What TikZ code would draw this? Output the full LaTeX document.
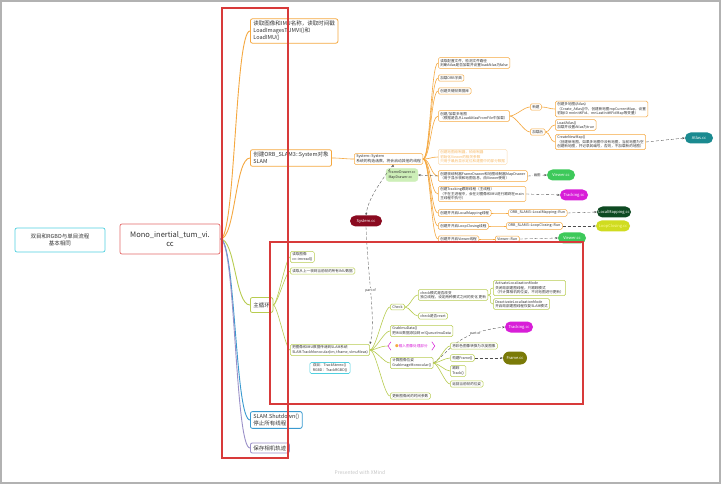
\documentclass[tikz,border=0pt]{standalone}
\usepackage{fontspec}
\setmainfont{Noto Sans CJK SC}
\usetikzlibrary{shapes.misc,arrows.meta}
\definecolor{orgc}{HTML}{F5A840}
\definecolor{limec}{HTML}{B8CC50}
\definecolor{bluec}{HTML}{3A9AD0}
\definecolor{purpc}{HTML}{9A90C8}
\definecolor{cyanc}{HTML}{50D0E0}
\definecolor{rootc}{HTML}{E46A6A}
\definecolor{framec}{HTML}{D83A3A}
\definecolor{tealc}{HTML}{1A8A90}
\definecolor{viewc}{HTML}{3DC95A}
\definecolor{magc}{HTML}{D81ED8}
\definecolor{dgreenc}{HTML}{0E4A22}
\definecolor{lcc}{HTML}{D0DC20}
\definecolor{olivec}{HTML}{7A7A08}
\definecolor{sysc}{HTML}{8A0A20}
\definecolor{fdc}{HTML}{CDEFB8}
\definecolor{txtc}{HTML}{333333}
\tikzset{
  bx/.style={draw, rounded corners=1.5pt, fill=white, inner xsep=2pt, inner ysep=1.5pt,
    align=left, anchor=west, text=txtc, line width=0.5pt, font=\fontsize{3.6}{4.4}\selectfont},
  ob/.style={bx, draw=orgc},
  gb/.style={bx, draw=limec},
  lone/.style={bx, font=\fontsize{5.5}{6.8}\selectfont, line width=0.8pt, inner xsep=3pt, inner ysep=2.5pt, rounded corners=2pt},
  pill/.style={rounded rectangle, minimum height=11pt, minimum width=34pt, inner xsep=3pt,
    text=white, font=\fontsize{4}{5}\selectfont},
  oline/.style={orgc, line width=0.6pt},
  gline/.style={limec, line width=0.6pt},
  rel/.style={densely dashed, gray!60!black, line width=0.35pt, -{Stealth[length=2.5pt,width=2pt]}},
  rlab/.style={fill=white, inner sep=0.5pt, text=txtc, font=\fontsize{3.4}{4}\selectfont},
  redframe/.style={draw=framec, line width=1.6pt}
}
\newcommand\lk[4]{\draw[#1] (#2.east) .. controls +(#4,0) and +(-#4,0) .. (#3.west);}
\begin{document}
\begin{tikzpicture}[x=1pt,y=-1pt]
\useasboundingbox (0,0) rectangle (721,484);
\fill[white] (0,0) rectangle (721,484);
\draw[gray!60, line width=1.2pt] (1,1) rectangle (720,483);

% root and left
\node[draw=rootc, rounded corners=2pt, fill=white, minimum width=100pt, minimum height=30pt, align=center,
  text=txtc, line width=0.7pt, font=\fontsize{7.5}{9.5}\selectfont] (root) at (170,239) {Mono\_inertial\_tum\_vi.\\cc};
\node[draw=cyanc, rounded corners=2pt, fill=white, minimum width=90pt, minimum height=24pt, align=center,
  text=txtc, line width=0.7pt, font=\fontsize{5.5}{7.5}\selectfont] (left) at (60,240) {双目和RGBD与单目流程\\基本相同};

% level one
\node[lone, draw=orgc] (n1) at (250,31) {读取图像和IMU名称，读取时间戳\\LoadImagesTUMVI()和\\LoadIMU()};
\node[lone, draw=orgc] (n2) at (250,158) {创建ORB\_SLAM3::System对象\\SLAM};
\node[lone, draw=limec, minimum height=15pt] (n3) at (250,305) {主循环};
\node[lone, draw=bluec] (n4) at (250,420) {SLAM.Shutdown()\\停止所有线程};
\node[lone, draw=purpc] (n5) at (250,448) {保存相机轨迹};

\lk{orgc, line width=0.9pt}{root}{n1}{15}
\lk{orgc, line width=0.9pt}{root}{n2}{15}
\lk{limec, line width=0.9pt}{root}{n3}{15}
\lk{bluec, line width=0.9pt}{root}{n4}{15}
\lk{purpc, line width=0.9pt}{root}{n5}{15}

% System branch
\node[ob, font=\fontsize{3.8}{4.6}\selectfont] (sys) at (354,159) {System::System\\系统的构造函数，将会启动其他的线程};
\lk{oline}{n2}{sys}{10}

\node[ob] (c1) at (438,63) {读取配置文件，检测文件路径\\判断Atlas是否加载并设置loadAtlas为false};
\node[ob] (c2) at (438,78) {加载ORB字典};
\node[ob] (c3) at (438,91) {创建关键帧数据库};
\node[ob] (c4) at (438,116) {创建/加载多地图\\（根据是否从LoadAtlasFromFile中加载）};
\node[bx, draw=orgc!40, text=orgc!80] (c5) at (438,157) {创建地图绘制器，帧绘制器\\初始化Viewer的相关参数\\只用于最后显示定位和建图中的部分数据};
\node[ob] (c6) at (438,176) {创建帧绘制器FrameDrawer和地图绘制器MapDrawer\\（用于显示帧和地图信息，由Viewer使用）};
\node[ob] (c7) at (438,194) {创建Tracking跟踪线程（主线程）\\（不在主进程中，会在对图像和IMU进行跟踪在main\\主线程中执行）};
\node[ob] (c8) at (438,213) {创建并开启LocalMapping线程};
\node[ob] (c9) at (438,226) {创建并开启LoopClosing线程};
\node[ob] (c10) at (438,239) {创建并开启Viewer线程};
\foreach \c in {c1,c2,c3,c4,c5,c6,c7,c8,c9,c10}{\lk{oline}{sys}{\c}{7}}

\node[ob] (c4a) at (530,107) {新建};
\node[ob] (c4b) at (530,132) {加载后};
\lk{oline}{c4}{c4a}{6}
\lk{oline}{c4}{c4b}{6}
\node[ob] (c4a1) at (555,109) {创建多地图(Atlas)\\（Create\_Atlas()中，创建新地图mpCurrentMap，设置\\初始ID mnInitKFid、mnLastInitKFidMap等变量）};
\node[ob] (c4b1) at (555,125) {LoadAtlas()\\加载并设置Atlas为true};
\node[ob] (c4b2) at (555,142) {CreateNewMap()\\（创建新地图，如果多地图中没有地图，当前地图为空\\创建新地图，并记录其编号，否则，不加载新的地图）};
\lk{oline}{c4a}{c4a1}{5}
\lk{oline}{c4b}{c4b1}{5}
\lk{oline}{c4b}{c4b2}{5}
\node[pill, fill=tealc] (atlas) at (699,138) {Atlas.cc};
\draw[rel] (c4b2.east) -- (atlas.west);

\node[pill, fill=viewc] (view1) at (561,175) {Viewer.cc};
\draw[rel] (c6.east) -- node[rlab]{画图} (view1.west);
\node[draw=fdc, fill=fdc, rounded corners=3pt, align=left, text=txtc, inner sep=2.5pt,
  font=\fontsize{3.6}{4.4}\selectfont] (fd) at (402,175) {FrameDrawer.cc\\MapDrawer.cc};
\draw[rel] (c6.west) -- (fd.east);
\node[pill, fill=magc] (track1) at (574,195) {Tracking.cc};
\draw[rel] (c7.east) -- (track1.west);

\node[ob] (c8a) at (508,213) {ORB\_SLAM3::LocalMapping::Run};
\node[ob] (c9a) at (506,226) {ORB\_SLAM3::LoopClosing::Run};
\node[ob] (c10a) at (495,239) {Viewer::Run};
\lk{oline}{c8}{c8a}{4}
\lk{oline}{c9}{c9a}{4}
\lk{oline}{c10}{c10a}{4}
\node[pill, fill=dgreenc, minimum width=40pt] (lm) at (614,212) {LocalMapping.cc};
\node[pill, fill=lcc, text=yellow!40, minimum width=40pt] (lc) at (613,226) {LoopClosing.cc};
\node[pill, fill=viewc] (view2) at (572,238) {Viewer.cc};
\draw[rel] (c8a.east) -- (lm.west);
\draw[rel] (c9a.east) -- (lc.west);
\draw[rel] (c10a.east) -- (view2.west);

\node[pill, fill=sysc, minimum width=38pt] (sysf) at (366,221) {System.cc};
\draw[rel] (sys.south east) ++(-30,0) coordinate (sysb);
\draw[rel] (sysb) .. controls (378,185) and (368,200) .. (sysf.north);

% main loop
\node[gb] (m1) at (290,257) {读取图像\\cv::imread()};
\node[gb] (m2) at (290,271) {读取从上一帧到当前帧的所有IMU数据};
\node[gb] (m3) at (290,350) {把图像和IMU数据传递到SLAM系统\\SLAM.TrackMonocular(im, tframe, vImuMeas)};
\lk{gline}{n3}{m1}{4}
\lk{gline}{n3}{m2}{4}
\lk{gline}{n3}{m3}{4}
\node[bx, draw=cyanc, line width=0.6pt, anchor=center, inner xsep=3pt] (stereo) at (330,368) {双目：TrackStereo()\\RGBD：TrackRGBD()};

\draw[rel] (sysf.south) .. controls (368,280) and (376,320) .. node[rlab, pos=0.45]{part of} (m3.north east);

\node[gb] (k1) at (390,307) {Check};
\node[gb] (k2) at (390,331) {GrabImuData()\\把IMU数据添加到 mlQueueImuData};
\node[anchor=west, text=magc, font=\fontsize{3.6}{4.4}\selectfont, inner xsep=3pt] (k3) at (392,346) {\textcolor{orgc}{●}输入图像处理部分};
\draw[magc, line width=0.5pt] ([xshift=-1pt,yshift=-1pt]k3.north west) -- ([xshift=-4pt]k3.west) -- ([xshift=-1pt,yshift=1pt]k3.south west);
\draw[magc, line width=0.5pt] ([xshift=1pt,yshift=-1pt]k3.north east) -- ([xshift=4pt]k3.east) -- ([xshift=1pt,yshift=1pt]k3.south east);
\node[gb] (k4) at (390,363) {计算图像位姿\\GrabImageMonocular()};
\node[gb] (k5) at (390,396) {更新图像间的时间参数};
\lk{gline}{m3}{k1}{6}
\lk{gline}{m3}{k2}{6}
\draw[gline] (m3.east) .. controls +(6,0) and +(-9,0) .. ([xshift=-4pt]k3.west);
\lk{gline}{m3}{k4}{6}
\lk{gline}{m3}{k5}{6}

\node[gb] (k1a) at (418,295) {check模式是否改变\\独立线程，设定两种模式之间的变化 更新};
\node[gb] (k1b) at (418,316) {check是否reset};
\lk{gline}{k1}{k1a}{5}
\lk{gline}{k1}{k1b}{5}
\node[gb] (k1a1) at (493,288) {ActivateLocalizationMode\\关闭局部建图线程，只跟踪模式\\（只计算相机的位姿，不对地图进行更新）};
\node[gb] (k1a2) at (493,304) {DeactivateLocalizationMode\\开启局部建图线程恢复SLAM模式};
\lk{gline}{k1a}{k1a1}{6}
\lk{gline}{k1a}{k1a2}{6}

\node[pill, fill=magc] (track2) at (519,327) {Tracking.cc};
\draw[rel] (k4.east) .. controls (452,350) and (455,333) .. node[rlab, pos=0.75]{part of} (track2.west);

\node[gb] (k4a) at (450,346) {将彩色图像转换为灰度图像};
\node[gb] (k4b) at (450,358) {构建Frame()};
\node[gb] (k4c) at (450,371) {跟踪\\Track()};
\node[gb] (k4d) at (450,384) {返回当前帧的位姿};
\foreach \c in {k4a,k4b,k4c,k4d}{\lk{gline}{k4}{\c}{5}}
\node[pill, fill=olivec, minimum width=30pt, minimum height=13pt] (frame) at (515,358) {Frame.cc};
\draw[rel] (k4b.east) -- (frame.west);

% red frames
\draw[redframe] (222,8) rectangle (288,458);
\draw[redframe] (270,242) rectangle (583,404);

\node[text=gray!45, font=\fontsize{5}{6}\selectfont] (pw) at (360,473) {Presented with XMind};
\end{tikzpicture}
\end{document}
